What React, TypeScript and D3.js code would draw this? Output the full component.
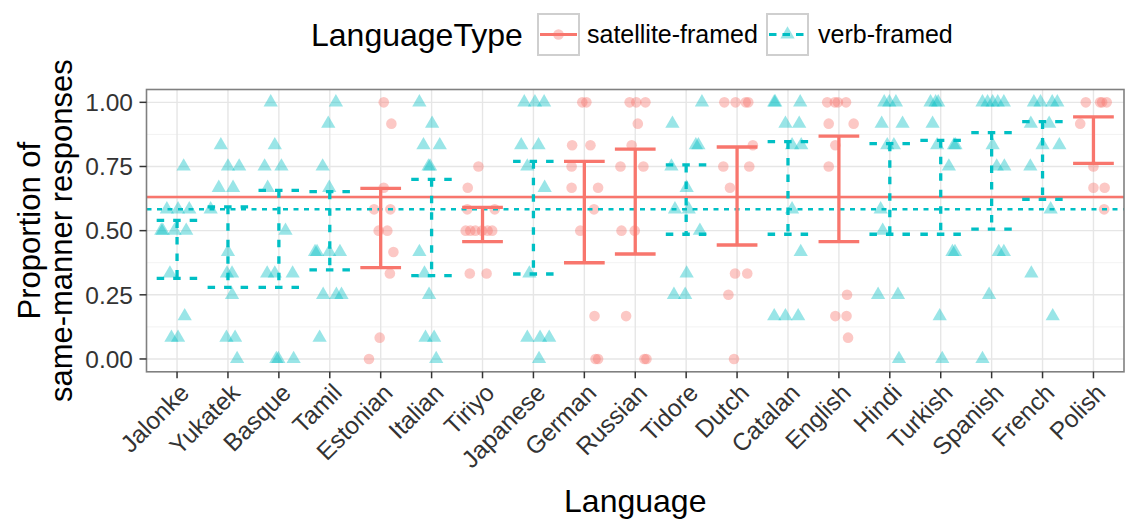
import React from 'react';
import * as d3 from 'd3';

// languages in plot order, and which are satellite-framed
const languages = ['Jalonke', 'Yukatek', 'Basque', 'Tamil', 'Estonian', 'Italian', 'Tiriyo', 'Japanese', 'German', 'Russian', 'Tidore', 'Dutch', 'Catalan', 'English', 'Hindi', 'Turkish', 'Spanish', 'French', 'Polish'];
const satelliteFramed = ['Estonian', 'Tiriyo', 'German', 'Russian', 'Dutch', 'English', 'Polish'];

// error bar ends per language
const ciLower = [0.314, 0.279, 0.279, 0.347, 0.356, 0.325, 0.457, 0.331, 0.375, 0.409, 0.486, 0.444, 0.486, 0.457, 0.486, 0.486, 0.506, 0.622, 0.762];
const ciUpper = [0.540, 0.593, 0.657, 0.652, 0.665, 0.700, 0.591, 0.770, 0.770, 0.818, 0.756, 0.826, 0.847, 0.868, 0.839, 0.852, 0.882, 0.925, 0.943];

// group means (horizontal reference lines)
const meanSatellite = 0.631;
const meanVerb = 0.583;

const yTicks = [0, 0.25, 0.5, 0.75, 1];
const yMinor = [0.125, 0.375, 0.625, 0.875];

// speaker responses: [jitter (in category units), proportion]
const jalonke = [[0.13, 0.75], [-0.2, 0.583], [0.02, 0.583], [0.24, 0.583], [-0.31, 0.5], [-0.28, 0.5], [-0.05, 0.5], [0.18, 0.5], [-0.14, 0.333], [0.15, 0.167], [-0.11, 0.083], [0.02, 0.083]];
const yukatek = [[-0.14, 0.833], [0, 0.75], [0.22, 0.75], [-0.18, 0.667], [0.1, 0.667], [-0.34, 0.583], [0, 0.417], [-0.02, 0.333], [0.08, 0.333], [0.08, 0.25], [-0.03, 0.083], [0.14, 0.083], [0.18, 0]];
const basque = [[-0.16, 1], [-0.08, 0.833], [-0.28, 0.75], [0.05, 0.75], [-0.22, 0.667], [0.13, 0.5], [-0.23, 0.333], [-0.08, 0.333], [0.27, 0.333], [-0.05, 0], [-0.01, 0], [0.29, 0]];
const tamil = [[0.12, 1], [-0.03, 0.917], [-0.14, 0.75], [-0.01, 0.667], [-0.29, 0.417], [-0.25, 0.417], [-0.01, 0.417], [0.2, 0.417], [-0.13, 0.25], [0.13, 0.25], [0.23, 0.25], [-0.2, 0.083]];
const estonian = [[0.06, 1], [0.21, 0.917], [0.06, 0.667], [-0.13, 0.583], [0.19, 0.583], [-0.04, 0.5], [0.13, 0.5], [0.25, 0.417], [0.18, 0.333], [-0.02, 0.083], [-0.23, 0]];
const italian = [[-0.24, 1], [0.01, 0.917], [-0.16, 0.833], [0.16, 0.833], [-0.06, 0.75], [-0.03, 0.75], [-0.24, 0.417], [-0.14, 0.333], [-0.05, 0.25], [-0.12, 0.083], [0.05, 0.083], [0.09, 0]];
const tiriyo = [[-0.08, 0.75], [-0.29, 0.667], [-0.3, 0.583], [0.24, 0.583], [-0.33, 0.5], [-0.24, 0.5], [-0.14, 0.5], [-0.01, 0.5], [0.1, 0.5], [0.19, 0.5], [-0.25, 0.333], [0.08, 0.333]];
const japanese = [[-0.18, 1], [0.03, 1], [0.21, 1], [-0.24, 0.833], [0.1, 0.833], [-0.12, 0.75], [0.22, 0.667], [-0.08, 0.333], [-0.12, 0.083], [0.13, 0.083], [0.31, 0.083], [0.11, 0]];
const german = [[-0.04, 1], [0.04, 1], [-0.24, 0.833], [0.12, 0.833], [-0.25, 0.75], [-0.25, 0.667], [0.27, 0.667], [0.19, 0.583], [-0.08, 0.5], [0.2, 0.167], [0.22, 0], [0.27, 0]];
const russian = [[-0.11, 1], [0.02, 1], [0.2, 1], [0.05, 0.917], [-0.07, 0.833], [-0.29, 0.75], [0.16, 0.75], [-0.27, 0.5], [-0.01, 0.5], [-0.18, 0.167], [0.18, 0], [0.22, 0]];
const tidore = [[0.31, 1], [-0.27, 0.917], [0.19, 0.833], [0.24, 0.833], [-0.29, 0.75], [0.01, 0.667], [-0.22, 0.583], [0.05, 0.583], [0.27, 0.5], [0.01, 0.333], [-0.24, 0.25], [-0.02, 0.25]];
const dutch = [[-0.25, 1], [-0.03, 1], [0.17, 1], [0.22, 1], [0.31, 0.833], [-0.27, 0.75], [0.24, 0.75], [-0.14, 0.667], [-0.04, 0.333], [0.2, 0.333], [-0.17, 0.25], [-0.06, 0]];
const catalan = [[-0.27, 1], [-0.25, 1], [0.24, 1], [-0.05, 0.917], [0.22, 0.917], [0.08, 0.833], [0.26, 0.833], [0.08, 0.583], [0.25, 0.417], [-0.27, 0.167], [-0.05, 0.167], [0.2, 0.167]];
const english = [[-0.23, 1], [-0.08, 1], [-0.02, 1], [0.14, 1], [-0.2, 0.917], [0.29, 0.917], [-0.07, 0.833], [-0.2, 0.75], [0.16, 0.25], [-0.07, 0.167], [0.15, 0.167], [0.18, 0.083]];
const hindi = [[-0.11, 1], [-0.01, 1], [0.12, 1], [-0.16, 0.917], [0.25, 0.917], [-0.05, 0.833], [0.08, 0.833], [-0.18, 0.583], [-0.14, 0.5], [-0.23, 0.25], [0.16, 0.25], [0.18, 0]];
const turkish = [[-0.2, 1], [-0.1, 1], [-0.05, 1], [-0.16, 0.917], [-0.07, 0.833], [0.26, 0.833], [0.29, 0.833], [0.16, 0.75], [0.23, 0.417], [0.28, 0.417], [-0.02, 0.167], [0.03, 0]];
const spanish = [[-0.18, 1], [-0.08, 1], [0.02, 1], [0.12, 1], [0.24, 1], [0.02, 0.833], [0.1, 0.75], [0.25, 0.75], [0.14, 0.417], [0.24, 0.417], [-0.05, 0.25], [-0.18, 0]];
const french = [[-0.17, 1], [-0.04, 1], [0.19, 1], [0.29, 1], [-0.23, 0.917], [0.13, 0.917], [0, 0.833], [0.33, 0.833], [-0.24, 0.75], [0.16, 0.583], [-0.22, 0.333], [0.2, 0.167]];
const polish = [[-0.15, 1], [0.13, 1], [0.17, 1], [0.26, 1], [-0.26, 0.917], [0, 0.75], [0, 0.667], [0.22, 0.667], [0.21, 0.583]];

const responses = [jalonke, yukatek, basque, tamil, estonian, italian, tiriyo, japanese, german, russian, tidore, dutch, catalan, english, hindi, turkish, spanish, french, polish];

const RED = '#F8766D';
const CYAN = '#00BFC4';
const FONT = '"Liberation Sans", Arial, Helvetica, sans-serif';

export default function App() {
  const width = 1125;
  const height = 525;
  const panel = { left: 146.5, right: 1124, top: 89.5, bottom: 371.8 };

  const x = d3.scalePoint<string>().domain(languages).range([panel.left, panel.right]).padding(0.6);
  const y = d3.scaleLinear().domain([-0.05, 1.05]).range([panel.bottom, panel.top]);
  const step = x.step();
  const half = step * 0.4;

  const triangle = d3.symbol(d3.symbolTriangle, 88)()!;

  const isSat = (l: string) => satelliteFramed.includes(l);

  // path in ggplot errorbar order so the dash pattern runs the same way
  const errorPath = (cx: number, lo: number, hi: number) => {
    const p = d3.path();
    p.moveTo(cx - half, y(hi));
    p.lineTo(cx + half, y(hi));
    p.moveTo(cx, y(hi));
    p.lineTo(cx, y(lo));
    p.moveTo(cx - half, y(lo));
    p.lineTo(cx + half, y(lo));
    return p.toString();
  };

  return (
    <svg width={width} height={height} style={{ position: 'absolute', left: 0, top: 0, background: '#fff' }} fontFamily={FONT}>
      <defs>
        <clipPath id="panel-clip">
          <rect x={panel.left} y={panel.top} width={panel.right - panel.left} height={panel.bottom - panel.top} />
        </clipPath>
      </defs>

      {/* legend */}
      <g>
        <text x={311} y={46} fontSize={32} fill="#000">LanguageType</text>
        <rect x={538} y={14} width={41} height={41} fill="#fff" stroke="#cfcfcf" strokeWidth={2} />
        <line x1={540} x2={577} y1={34.5} y2={34.5} stroke={RED} strokeWidth={3.2} />
        <circle cx={558.5} cy={34.5} r={5.3} fill={RED} fillOpacity={0.4} />
        <text x={587} y={43} fontSize={25} fill="#000">satellite-framed</text>
        <rect x={767} y={14} width={41} height={41} fill="#fff" stroke="#cfcfcf" strokeWidth={2} />
        <line x1={769} x2={806} y1={34.5} y2={34.5} stroke={CYAN} strokeWidth={3.2} strokeDasharray="7.5,6" />
        <path d={triangle} transform={`translate(787.5,34.5)`} fill={CYAN} fillOpacity={0.4} />
        <text x={818} y={43} fontSize={25} fill="#000">verb-framed</text>
      </g>

      {/* grid */}
      <g>
        {yMinor.map(t => (
          <line key={'mn' + t} x1={panel.left} x2={panel.right} y1={y(t)} y2={y(t)} stroke="#f0f0f0" strokeWidth={0.9} />
        ))}
        {yTicks.map(t => (
          <line key={'mj' + t} x1={panel.left} x2={panel.right} y1={y(t)} y2={y(t)} stroke="#e6e6e6" strokeWidth={1.4} />
        ))}
        {languages.map(l => (
          <line key={'gx' + l} x1={x(l)!} x2={x(l)!} y1={panel.top} y2={panel.bottom} stroke="#e6e6e6" strokeWidth={1.4} />
        ))}
      </g>

      <g clipPath="url(#panel-clip)">
        {/* jittered responses */}
        {languages.map((l, i) =>
          responses[i].map(([j, v], k) =>
            isSat(l) ? (
              <circle key={l + k} cx={x(l)! + j * step} cy={y(v)} r={5.3} fill={RED} fillOpacity={0.4} />
            ) : (
              <path key={l + k} d={triangle} transform={`translate(${x(l)! + j * step},${y(v)})`} fill={CYAN} fillOpacity={0.4} />
            )
          )
        )}

        {/* group means */}
        <line x1={panel.left} x2={panel.right} y1={y(meanSatellite)} y2={y(meanSatellite)} stroke={RED} strokeWidth={2.5} />
        <line x1={panel.left} x2={panel.right} y1={y(meanVerb)} y2={y(meanVerb)} stroke={CYAN} strokeWidth={2.5} strokeDasharray="5,5.5" />

        {/* error bars */}
        {languages.map((l, i) => (
          <path
            key={'eb' + l}
            d={errorPath(x(l)!, ciLower[i], ciUpper[i])}
            fill="none"
            stroke={isSat(l) ? RED : CYAN}
            strokeWidth={3.3}
            strokeDasharray={isSat(l) ? undefined : '7.5,9'}
          />
        ))}
      </g>

      <rect x={panel.left} y={panel.top} width={panel.right - panel.left} height={panel.bottom - panel.top} fill="none" stroke="#808080" strokeWidth={1.6} />

      {/* y axis */}
      <g>
        {yTicks.map(t => (
          <g key={'yt' + t}>
            <line x1={139.5} x2={panel.left} y1={y(t)} y2={y(t)} stroke="#333" strokeWidth={1.5} />
            <text x={133} y={y(t)} dy="0.36em" textAnchor="end" fontSize={24.5} fill="#333">{d3.format('.2f')(t)}</text>
          </g>
        ))}
        <text transform={`translate(40,${(panel.top + panel.bottom) / 2}) rotate(-90)`} textAnchor="middle" fontSize={31} fill="#000">Proportion of</text>
        <text transform={`translate(72,${(panel.top + panel.bottom) / 2}) rotate(-90)`} textAnchor="middle" fontSize={31} fill="#000">same-manner responses</text>
      </g>

      {/* x axis */}
      <g>
        {languages.map(l => (
          <g key={'xt' + l}>
            <line x1={x(l)!} x2={x(l)!} y1={panel.bottom} y2={panel.bottom + 6.5} stroke="#333" strokeWidth={1.5} />
            <text transform={`translate(${x(l)! + 1},${panel.bottom + 10}) rotate(-45)`} dy="0.72em" textAnchor="end" fontSize={24.5} fill="#333">{l}</text>
          </g>
        ))}
        <text x={(panel.left + panel.right) / 2} y={512} textAnchor="middle" fontSize={32} fill="#000">Language</text>
      </g>
    </svg>
  );
}
